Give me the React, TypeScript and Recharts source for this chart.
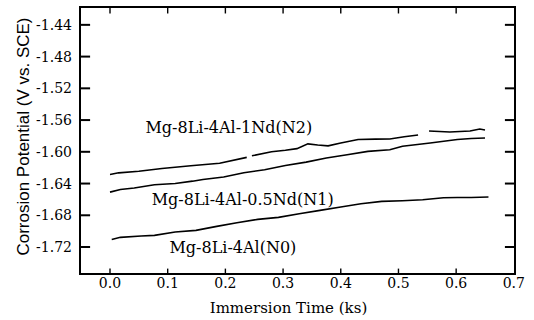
import React from 'react';
import { LineChart, Line, XAxis, YAxis, ReferenceDot, ReferenceArea, ReferenceLine } from 'recharts';

// immersion time (ks) / corrosion potential (V vs. SCE)
const n2Time = [0, 0.015, 0.05, 0.09, 0.14, 0.19, 0.237, 0.241, 0.246, 0.28, 0.304, 0.324, 0.343, 0.36, 0.378, 0.4, 0.43, 0.46, 0.485, 0.51, 0.534, 0.544, 0.553, 0.589, 0.624, 0.641, 0.65];
const n2Values = [-1.6285, -1.6265, -1.6245, -1.621, -1.6175, -1.6145, -1.607, null, -1.605, -1.6, -1.598, -1.596, -1.59, -1.5915, -1.5925, -1.589, -1.5845, -1.584, -1.5839, -1.581, -1.5788, null, -1.5738, -1.575, -1.5738, -1.5712, -1.5725];

const n1Time = [0, 0.018, 0.042, 0.077, 0.113, 0.143, 0.161, 0.197, 0.232, 0.268, 0.304, 0.34, 0.375, 0.411, 0.447, 0.485, 0.507, 0.555, 0.602, 0.626, 0.65];
const n1Values = [-1.6508, -1.6475, -1.6457, -1.6415, -1.64, -1.637, -1.6348, -1.6318, -1.6264, -1.6226, -1.6172, -1.613, -1.6079, -1.6037, -1.5995, -1.5975, -1.593, -1.589, -1.5845, -1.5832, -1.5826];

const n0Time = [0.003, 0.018, 0.054, 0.077, 0.113, 0.149, 0.185, 0.22, 0.256, 0.292, 0.328, 0.364, 0.4, 0.435, 0.471, 0.507, 0.542, 0.578, 0.602, 0.626, 0.656];
const n0Values = [-1.7104, -1.7078, -1.7062, -1.7053, -1.7011, -1.699, -1.694, -1.6894, -1.6852, -1.6826, -1.678, -1.6738, -1.6696, -1.6654, -1.6625, -1.6617, -1.6604, -1.6579, -1.6575, -1.6575, -1.657];

const xTicks = [0, 0.1, 0.2, 0.3, 0.4, 0.5, 0.6, 0.7];
const yTicks = [-1.72, -1.68, -1.64, -1.6, -1.56, -1.52, -1.48, -1.44];

// curve labels placed in data coordinates
const labelText = ['Mg-8Li-4Al-1Nd(N2)', 'Mg-8Li-4Al-0.5Nd(N1)', 'Mg-8Li-4Al(N0)'];
const labelTime = [0.206, 0.23, 0.213];
const labelValue = [-1.5695, -1.6595, -1.7205];

const X_DOMAIN: [number, number] = [-0.052, 0.702];
const Y_DOMAIN: [number, number] = [-1.754, -1.4175];
// inward tick lengths in data units (~10px on the sides, ~5px top/bottom)
const Y_TICK_LEN = 0.0175;
const X_TICK_LEN = 0.0068;

const toRows = (t: number[], v: (number | null)[]) => t.map((x, i) => ({ t: x, v: v[i] }));

const serif = 'DejaVu Serif';

const XTick = (props: any) => (
  <text x={props.x} y={props.y + 9} textAnchor="middle" dominantBaseline="central"
    fontFamily={serif} fontSize={14} fill="#000">
    {props.payload.value.toFixed(1)}
  </text>
);

const YTick = (props: any) => (
  <text x={props.x} y={props.y} textAnchor="end" dominantBaseline="central"
    fontFamily={serif} fontSize={14} fill="#000">
    {props.payload.value.toFixed(2)}
  </text>
);

const YTitle = (props: any) => {
  const vb = props.viewBox;
  const cx = vb.x + 23;
  const cy = vb.y + vb.height / 2 - 4;
  return (
    <text x={cx} y={cy} transform={`rotate(-90 ${cx} ${cy})`} textAnchor="middle" dominantBaseline="central"
      fontFamily="Liberation Sans" fontSize={17} fill="#000">
      Corrosion Potential (V vs. SCE)
    </text>
  );
};

const XTitle = (props: any) => {
  const vb = props.viewBox;
  return (
    <text x={vb.x + vb.width / 2 - 9} y={308} textAnchor="middle" dominantBaseline="central"
      fontFamily={serif} fontSize={15} fill="#000">
      Immersion Time (ks)
    </text>
  );
};

export default function App() {
  const lineProps = {
    xAxisId: 'x',
    yAxisId: 'y',
    dataKey: 'v',
    type: 'linear' as const,
    stroke: '#000',
    strokeWidth: 1.6,
    dot: false,
    connectNulls: false,
    isAnimationActive: false,
  };
  const tickSeg = (key: string, a: { x: number; y: number }, b: { x: number; y: number }, w: number) => (
    <ReferenceLine key={key} xAxisId="x" yAxisId="y" segment={[a, b]} stroke="#000" strokeWidth={w} ifOverflow="visible" />
  );
  return (
    <div style={{ position: 'absolute', left: 0, top: 0, background: '#fff' }}>
      <LineChart width={534} height={320} margin={{ top: 7, right: 19, bottom: 0, left: 0 }}>
        <XAxis xAxisId="x" type="number" dataKey="t" domain={X_DOMAIN} ticks={xTicks} allowDataOverflow
          height={46} stroke="#000" tickLine={false} tickSize={0} tickMargin={0}
          tick={<XTick />} label={<XTitle />} />
        <YAxis yAxisId="y" type="number" domain={Y_DOMAIN} ticks={yTicks} allowDataOverflow width={80}
          stroke="#000" tickLine={false} tickSize={0} tickMargin={8}
          tick={<YTick />} label={<YTitle />} />
        <ReferenceArea xAxisId="x" yAxisId="y" x1={X_DOMAIN[0]} x2={X_DOMAIN[1]} y1={Y_DOMAIN[0]} y2={Y_DOMAIN[1]}
          fill="none" fillOpacity={0} stroke="#000" strokeWidth={2} ifOverflow="visible" />
        {yTicks.map((v) => tickSeg(`yl${v}`, { x: X_DOMAIN[0], y: v }, { x: X_DOMAIN[0] + Y_TICK_LEN, y: v }, 2))}
        {yTicks.map((v) => tickSeg(`yr${v}`, { x: X_DOMAIN[1] - Y_TICK_LEN, y: v }, { x: X_DOMAIN[1], y: v }, 2))}
        {xTicks.slice(0, -1).map((t) => tickSeg(`xb${t}`, { x: t, y: Y_DOMAIN[0] }, { x: t, y: Y_DOMAIN[0] + X_TICK_LEN }, 1.4))}
        {xTicks.slice(0, -1).map((t) => tickSeg(`xt${t}`, { x: t, y: Y_DOMAIN[1] - X_TICK_LEN * 1.2 }, { x: t, y: Y_DOMAIN[1] }, 1.4))}
        <Line {...lineProps} data={toRows(n2Time, n2Values)} />
        <Line {...lineProps} data={toRows(n1Time, n1Values)} />
        <Line {...lineProps} data={toRows(n0Time, n0Values)} />
        {labelText.map((txt, i) => (
          <ReferenceDot key={txt} xAxisId="x" yAxisId="y" x={labelTime[i]} y={labelValue[i]} r={0}
            stroke="none" fill="none"
            label={{ value: txt, position: 'center', fill: '#000', fontFamily: serif, fontSize: 16 }} />
        ))}
      </LineChart>
    </div>
  );
}
